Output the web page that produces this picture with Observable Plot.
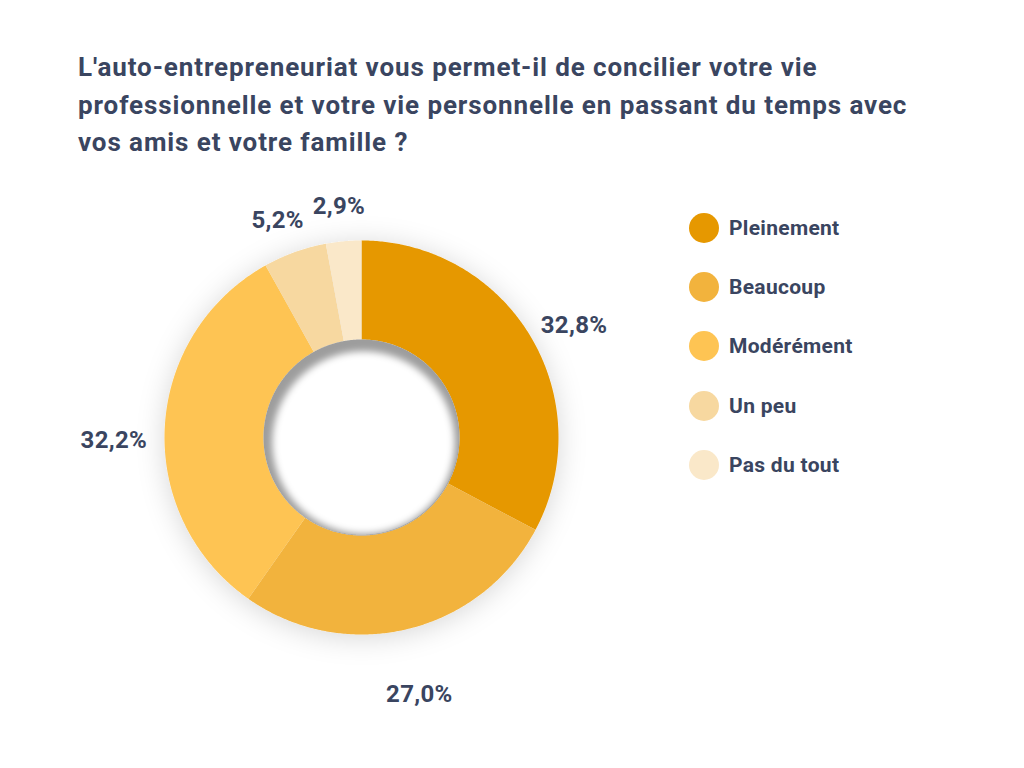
<!DOCTYPE html>
<html>
<head>
<meta charset="utf-8">
<script src="https://cdn.jsdelivr.net/npm/d3@7"></script>
<script src="https://cdn.jsdelivr.net/npm/@observablehq/plot@0.6"></script>
<style>
  html, body { margin: 0; padding: 0; background: #fff; }
  #wrap { position: relative; width: 1024px; height: 768px; overflow: hidden; font-family: Roboto, sans-serif; color: #3a4560; }
  #title { position: absolute; left: 78px; top: 49px; width: 940px; font-size: 26px; line-height: 37.5px; letter-spacing: 0.9px; font-weight: 700; color: #3a4560; white-space: nowrap; }
  #chart { position: absolute; left: 0; top: 180px; }
  #legend { position: absolute; left: 689px; top: 198.5px; }
  .item { display: flex; align-items: center; height: 59.2px; }
  .sw { width: 30px; height: 30px; border-radius: 50%; margin-right: 10px; }
  .lab { font-size: 21px; letter-spacing: 0.3px; font-weight: 700; color: #3a4560; }
</style>
</head>
<body>
<div id="wrap">
  <div id="title"></div>
  <div id="chart"></div>
  <div id="legend"></div>
</div>
<script>
const titleLines = [
  "L'auto-entrepreneuriat vous permet-il de concilier votre vie",
  "professionnelle et votre vie personnelle en passant du temps avec",
  "vos amis et votre famille ?"
];
const categories = ["Pleinement", "Beaucoup", "Modérément", "Un peu", "Pas du tout"];
const values = [32.8, 27.0, 32.2, 5.2, 2.9];
const colors = ["#E69800", "#F2B33D", "#FEC453", "#F7D8A0", "#FAE8C9"];

document.getElementById("title").innerHTML = titleLines.map(l => `<div>${l}</div>`).join("");

// donut geometry: azimuthal-equidistant view of the pole, so radius is linear in degrees
const R_OUT_PX = 197, R_IN_PX = 98, R_LABEL_PX = 248;
const R_OUT = 60;
const DEG_PER_PX = R_OUT / R_OUT_PX;
const R_IN = R_IN_PX * DEG_PER_PX;
const lonOf = theta => 180 - theta;   // theta: degrees clockwise from 12 o'clock
const latOf = r => 90 - r;

const total = d3.sum(values);
let acc = 0;
const slices = categories.map((c, i) => {
  const t0 = acc / total * 360;
  acc += values[i];
  const t1 = acc / total * 360;
  return {category: c, value: values[i], t0, t1, tm: (t0 + t1) / 2};
});

function arcRing(t0, t1) {
  const n = Math.max(2, Math.ceil((t1 - t0) / 0.5));
  const outer = d3.range(n + 1).map(k => t0 + (t1 - t0) * k / n).map(t => [lonOf(t), latOf(R_OUT)]);
  const inner = d3.range(n + 1).map(k => t1 - (t1 - t0) * k / n).map(t => [lonOf(t), latOf(R_IN)]);
  const ring = outer.concat(inner);
  ring.push(ring[0]);
  return ring;
}

const features = slices.map(s => ({
  type: "Feature",
  properties: {category: s.category},
  geometry: {type: "Polygon", coordinates: [arcRing(s.t0, s.t1)]}
}));

const fmt = v => v.toFixed(1).replace(".", ",") + "%";
const labels = slices.map(s => ({lon: lonOf(s.tm), lat: latOf(R_LABEL_PX * DEG_PER_PX), text: fmt(s.value)}));

const outerCircle = d3.geoCircle().center([0, 90]).radius(R_OUT)();
const holeCircle = d3.geoCircle().center([0, 90]).radius(R_IN).precision(0.5)();
const holeLight = d3.geoCircle().center([0, 90]).radius(R_IN * 0.93).precision(0.5)();

const W = 1024, H = 588;
const plot = Plot.plot({
  width: W,
  height: H,
  marginLeft: 361 - R_OUT_PX,
  marginRight: W - 361 - R_OUT_PX,
  marginTop: 257 - R_OUT_PX,
  marginBottom: H - 257 - R_OUT_PX,
  style: {fontFamily: "Roboto, sans-serif", background: "transparent", overflow: "visible", letterSpacing: "0.3px"},
  projection: {type: "azimuthal-equidistant", rotate: [0, -90], domain: outerCircle, clip: null},
  color: {domain: categories, range: colors},
  marks: [
    Plot.geo(features, {fill: d => d.properties.category, stroke: null}),
    Plot.geo(holeCircle, {fill: "#9d9d9d"}),
    Plot.geo(holeLight, {fill: "#ffffff", dx: 2, dy: 5}),
    Plot.text(labels, {x: "lon", y: "lat", text: "text", fill: "#3a4560", fontSize: 24, fontWeight: 700, dy: 16})
  ]
});
document.getElementById("chart").appendChild(plot);

// effects: soft drop shadow around the ring and inner shadow in the hole
const ns = "http://www.w3.org/2000/svg";
const defs = document.createElementNS(ns, "defs");
defs.innerHTML = `
  <filter id="ds" x="-30%" y="-30%" width="160%" height="160%">
    <feDropShadow dx="0" dy="3" stdDeviation="14" flood-color="#000" flood-opacity="0.16"/>
  </filter>
  <filter id="bl" x="-20%" y="-20%" width="140%" height="140%">
    <feGaussianBlur stdDeviation="3.5"/>
  </filter>`;
plot.insertBefore(defs, plot.firstChild);
const geos = plot.querySelectorAll('g[aria-label="geo"]');
geos[0].setAttribute("filter", "url(#ds)");
const holePath = geos[1].querySelector("path");
const cp = document.createElementNS(ns, "clipPath");
cp.setAttribute("id", "holeclip");
const cpp = document.createElementNS(ns, "path");
cpp.setAttribute("d", holePath.getAttribute("d"));
cp.appendChild(cpp);
defs.appendChild(cp);
const wrapG = document.createElementNS(ns, "g");
wrapG.setAttribute("clip-path", "url(#holeclip)");
geos[2].parentNode.insertBefore(wrapG, geos[2]);
wrapG.appendChild(geos[2]);
geos[2].setAttribute("filter", "url(#bl)");

// legend
document.getElementById("legend").innerHTML = categories.map((c, i) =>
  `<div class="item"><div class="sw" style="background:${colors[i]}"></div><div class="lab">${c}</div></div>`
).join("");
</script>
</body>
</html>
